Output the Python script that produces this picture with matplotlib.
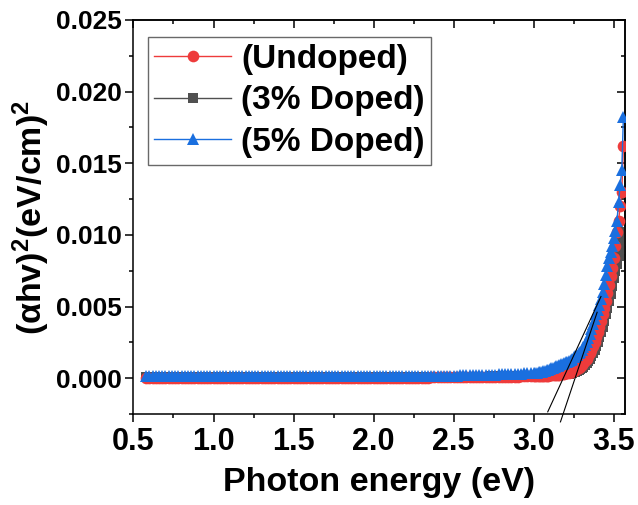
import numpy as np
import matplotlib
matplotlib.use('Agg')
import matplotlib.pyplot as plt
from matplotlib.ticker import MultipleLocator, FormatStrFormatter

plt.rcParams['font.family'] = ['Liberation Sans', 'DejaVu Sans']
plt.rcParams['font.weight'] = 'bold'
plt.rcParams['mathtext.fontset'] = 'custom'
plt.rcParams['mathtext.rm'] = 'Liberation Sans:bold'
plt.rcParams['mathtext.it'] = 'Liberation Sans:bold'
plt.rcParams['mathtext.bf'] = 'Liberation Sans:bold'

# photon energy (eV)
energy = [
    0.58, 0.60, 0.62, 0.64, 0.66, 0.68, 0.70, 0.72, 0.74, 0.76, 0.78, 0.80, 0.82, 0.84, 0.86, 0.88, 0.90, 0.92, 0.94, 0.96, 0.98,
    1.00, 1.02, 1.04, 1.06, 1.08, 1.10, 1.12, 1.14, 1.16, 1.18, 1.20, 1.22, 1.24, 1.26, 1.28, 1.30, 1.32, 1.34, 1.36, 1.38, 1.40, 1.42, 1.44, 1.46, 1.48,
    1.50, 1.52, 1.54, 1.56, 1.58, 1.60, 1.62, 1.64, 1.66, 1.68, 1.70, 1.72, 1.74, 1.76, 1.78, 1.80, 1.82, 1.84, 1.86, 1.88, 1.90, 1.92, 1.94, 1.96, 1.98,
    2.00, 2.02, 2.04, 2.06, 2.08, 2.10, 2.12, 2.14, 2.16, 2.18, 2.20, 2.22, 2.24, 2.26, 2.28, 2.30, 2.32, 2.34, 2.36, 2.38, 2.40, 2.42, 2.44, 2.46, 2.48,
    2.50, 2.52, 2.54, 2.56, 2.58, 2.60, 2.62, 2.64, 2.66, 2.68, 2.70, 2.72, 2.74, 2.76, 2.78, 2.80, 2.82, 2.84, 2.86, 2.88, 2.90, 2.92, 2.94, 2.96, 2.98,
    3.00, 3.01, 3.02, 3.03, 3.04, 3.05, 3.06, 3.07, 3.08, 3.09, 3.10, 3.11, 3.12, 3.13, 3.14, 3.15, 3.16, 3.17, 3.18, 3.19,
    3.20, 3.21, 3.22, 3.23, 3.24, 3.25, 3.26, 3.27, 3.28, 3.29, 3.30, 3.31, 3.32, 3.33, 3.34, 3.35, 3.36, 3.37, 3.38, 3.39,
    3.40, 3.41, 3.42, 3.43, 3.44, 3.45, 3.46, 3.47, 3.48, 3.49, 3.50, 3.51, 3.52, 3.53, 3.54, 3.55, 3.56,
]

# (alpha h nu)^2 in units of 1e-3 (eV/cm)^2
undoped = [
    0.02, 0.02, 0.02, 0.02, 0.02, 0.02, 0.02, 0.02, 0.02, 0.02, 0.02, 0.02, 0.02, 0.02, 0.02, 0.02, 0.02, 0.02, 0.02, 0.02, 0.02,
    0.02, 0.02, 0.02, 0.02, 0.02, 0.02, 0.02, 0.02, 0.02, 0.02, 0.02, 0.02, 0.02, 0.02, 0.02, 0.02, 0.02, 0.02, 0.02, 0.02, 0.02, 0.02, 0.02, 0.02, 0.02,
    0.02, 0.02, 0.02, 0.02, 0.02, 0.02, 0.02, 0.02, 0.02, 0.02, 0.02, 0.02, 0.02, 0.02, 0.02, 0.02, 0.02, 0.02, 0.02, 0.02, 0.02, 0.02, 0.02, 0.02, 0.02,
    0.02, 0.02, 0.02, 0.02, 0.02, 0.02, 0.02, 0.02, 0.02, 0.02, 0.02, 0.02, 0.03, 0.03, 0.03, 0.04, 0.04, 0.04, 0.05, 0.05, 0.05, 0.06, 0.06, 0.06, 0.07,
    0.07, 0.07, 0.07, 0.08, 0.08, 0.08, 0.08, 0.09, 0.09, 0.09, 0.09, 0.10, 0.10, 0.10, 0.10, 0.10, 0.11, 0.11, 0.11, 0.11, 0.11, 0.12, 0.12, 0.12, 0.12,
    0.13, 0.13, 0.14, 0.14, 0.15, 0.15, 0.16, 0.16, 0.17, 0.18, 0.19, 0.20, 0.21, 0.22, 0.23, 0.24, 0.25, 0.27, 0.29, 0.31,
    0.33, 0.36, 0.39, 0.42, 0.46, 0.50, 0.55, 0.62, 0.71, 0.81, 0.92, 1.05, 1.20, 1.37, 1.56, 1.77, 2.00, 2.27, 2.56, 2.88,
    3.22, 3.60, 4.00, 4.45, 4.90, 5.40, 5.95, 6.50, 7.10, 7.70, 8.40, 9.20, 10.2, 11.0, 12.0, 13.0, 16.2,
]
doped_3 = [
    0.05, 0.05, 0.05, 0.05, 0.05, 0.05, 0.05, 0.05, 0.05, 0.05, 0.05, 0.05, 0.05, 0.05, 0.05, 0.05, 0.05, 0.05, 0.05, 0.05, 0.05,
    0.05, 0.05, 0.05, 0.05, 0.05, 0.05, 0.05, 0.05, 0.05, 0.05, 0.05, 0.05, 0.05, 0.05, 0.05, 0.05, 0.05, 0.05, 0.05, 0.05, 0.05, 0.05, 0.05, 0.05, 0.05,
    0.05, 0.05, 0.05, 0.05, 0.05, 0.05, 0.05, 0.05, 0.05, 0.05, 0.05, 0.05, 0.05, 0.05, 0.05, 0.05, 0.05, 0.05, 0.05, 0.05, 0.05, 0.05, 0.05, 0.05, 0.05,
    0.05, 0.05, 0.05, 0.05, 0.05, 0.05, 0.05, 0.05, 0.05, 0.05, 0.06, 0.06, 0.06, 0.06, 0.06, 0.06, 0.06, 0.06, 0.07, 0.07, 0.07, 0.07, 0.07, 0.07, 0.07,
    0.08, 0.08, 0.08, 0.09, 0.09, 0.09, 0.10, 0.10, 0.10, 0.11, 0.11, 0.11, 0.12, 0.12, 0.12, 0.13, 0.13, 0.13, 0.14, 0.14, 0.14, 0.15, 0.15, 0.15, 0.15,
    0.16, 0.16, 0.17, 0.17, 0.18, 0.18, 0.19, 0.19, 0.20, 0.20, 0.21, 0.21, 0.22, 0.22, 0.23, 0.23, 0.24, 0.25, 0.26, 0.27,
    0.28, 0.30, 0.32, 0.34, 0.37, 0.40, 0.44, 0.48, 0.54, 0.61, 0.70, 0.80, 0.92, 1.05, 1.20, 1.35, 1.53, 1.75, 2.00, 2.25,
    2.55, 2.85, 3.20, 3.60, 4.00, 4.45, 4.90, 5.40, 5.90, 6.40, 7.00, 7.50, 8.00, 8.50, 9.00, 9.60, 10.2,
]
doped_5 = [
    0.12, 0.12, 0.12, 0.12, 0.12, 0.12, 0.12, 0.12, 0.12, 0.12, 0.12, 0.12, 0.12, 0.12, 0.12, 0.12, 0.12, 0.12, 0.12, 0.12, 0.12,
    0.12, 0.12, 0.12, 0.12, 0.12, 0.12, 0.12, 0.12, 0.12, 0.12, 0.12, 0.12, 0.12, 0.12, 0.12, 0.12, 0.12, 0.12, 0.12, 0.12, 0.12, 0.12, 0.12, 0.12, 0.12,
    0.12, 0.12, 0.12, 0.12, 0.12, 0.12, 0.12, 0.12, 0.12, 0.12, 0.12, 0.12, 0.13, 0.13, 0.13, 0.13, 0.13, 0.13, 0.13, 0.13, 0.13, 0.13, 0.13, 0.13, 0.13,
    0.13, 0.13, 0.13, 0.13, 0.13, 0.14, 0.14, 0.14, 0.14, 0.14, 0.15, 0.15, 0.15, 0.15, 0.15, 0.16, 0.16, 0.16, 0.16, 0.16, 0.17, 0.17, 0.17, 0.17, 0.17,
    0.18, 0.18, 0.19, 0.19, 0.20, 0.20, 0.21, 0.21, 0.22, 0.22, 0.23, 0.23, 0.24, 0.25, 0.26, 0.27, 0.28, 0.29, 0.30, 0.30, 0.31, 0.32, 0.33, 0.34, 0.35,
    0.36, 0.37, 0.39, 0.41, 0.43, 0.45, 0.48, 0.51, 0.55, 0.59, 0.64, 0.68, 0.72, 0.77, 0.82, 0.87, 0.92, 0.97, 1.02, 1.06,
    1.10, 1.14, 1.20, 1.27, 1.35, 1.45, 1.55, 1.65, 1.75, 1.85, 2.00, 2.15, 2.35, 2.55, 2.80, 3.10, 3.40, 3.75, 4.10, 4.45,
    4.75, 5.10, 5.55, 6.00, 6.60, 7.20, 7.80, 8.40, 8.80, 9.20, 9.80, 10.3, 11.0, 12.3, 13.5, 14.5, 18.2,
]

# band-edge tangent lines: end points (eV, 1e-3 units)
fit_a_x = [3.0875, 3.42]
fit_a_y = [-2.35, 5.7]
fit_b_x = [3.167, 3.396]
fit_b_y = [-3.05, 4.6]

labels = ['(Undoped)', '(3% Doped)', '(5% Doped)']
colors = ['#ee3b3b', '#505050', '#1a6fdf']
markers = ['o', 's', '^']
sizes = [8.4, 7.4, 9.0]

E = np.array(energy)
series = [np.array(undoped) * 1e-3, np.array(doped_3) * 1e-3, np.array(doped_5) * 1e-3]

fig = plt.figure(figsize=(6.38, 5.05), dpi=100)
ax = fig.add_axes([0.2092, 0.1802, 0.7704, 0.7802])

zorders = [3, 2, 4]
handles = []
for y, lab, c, m, ms, z in zip(series, labels, colors, markers, sizes, zorders):
    h, = ax.plot(E, y, color=c, marker=m, markersize=ms, lw=1.0,
                 markeredgewidth=0, label=lab, zorder=z)
    handles.append(h)

ax.plot(fit_a_x, np.array(fit_a_y) * 1e-3, color='black', lw=0.8, zorder=5, clip_on=False)
ax.plot(fit_b_x, np.array(fit_b_y) * 1e-3, color='black', lw=0.8, zorder=5, clip_on=False)

ax.set_xlim(0.5, 3.57)
ax.set_ylim(-0.0025, 0.025)
ax.set_xticks([0.5, 1.0, 1.5, 2.0, 2.5, 3.0, 3.5])
ax.xaxis.set_minor_locator(MultipleLocator(0.25))
ax.set_yticks([0.0, 0.005, 0.010, 0.015, 0.020, 0.025])
ax.yaxis.set_minor_locator(MultipleLocator(0.0025))
ax.xaxis.set_major_formatter(FormatStrFormatter('%.1f'))
ax.yaxis.set_major_formatter(FormatStrFormatter('%.3f'))

ax.tick_params(which='both', direction='out', width=1.1, top=False, right=False)
ax.tick_params(which='major', length=5.5)
ax.tick_params(which='minor', length=3)
ax.tick_params(axis='x', labelsize=22, pad=4)
ax.tick_params(axis='y', labelsize=19, pad=3)
for s in ax.spines.values():
    s.set_linewidth(1.1)

# inward ticks on the opposite sides
secx = ax.secondary_xaxis('top')
secx.set_xticks([0.5, 1.0, 1.5, 2.0, 2.5, 3.0, 3.5])
secx.xaxis.set_minor_locator(MultipleLocator(0.25))
secx.tick_params(which='both', direction='in', width=1.1, labeltop=False)
secx.tick_params(which='major', length=5.5)
secx.tick_params(which='minor', length=3)
secy = ax.secondary_yaxis('right')
secy.set_yticks([0.0, 0.005, 0.010, 0.015, 0.020, 0.025])
secy.yaxis.set_minor_locator(MultipleLocator(0.0025))
secy.tick_params(which='both', direction='in', width=1.1, labelright=False)
secy.tick_params(which='major', length=5.5)
secy.tick_params(which='minor', length=3)
secx.spines['top'].set_linewidth(1.1)
secy.spines['right'].set_linewidth(1.1)

ax.set_xlabel('Photon energy (eV)', fontsize=24.5, fontweight='bold', labelpad=7)
ax.set_ylabel(r'$(\alpha hv)^{2}(eV/cm)^{2}$', fontsize=24.5, labelpad=3)

leg = ax.legend(handles=handles, loc='upper left', bbox_to_anchor=(0.029, 0.957),
                fontsize=24, frameon=True, fancybox=False, handlelength=2.3,
                handletextpad=0.3, labelspacing=0.32, borderpad=0.2, borderaxespad=0)
leg.get_frame().set_edgecolor('#444444')
leg.get_frame().set_linewidth(1.0)
for t in leg.get_texts():
    t.set_fontweight('bold')

fig.savefig('out.png', dpi=100)
